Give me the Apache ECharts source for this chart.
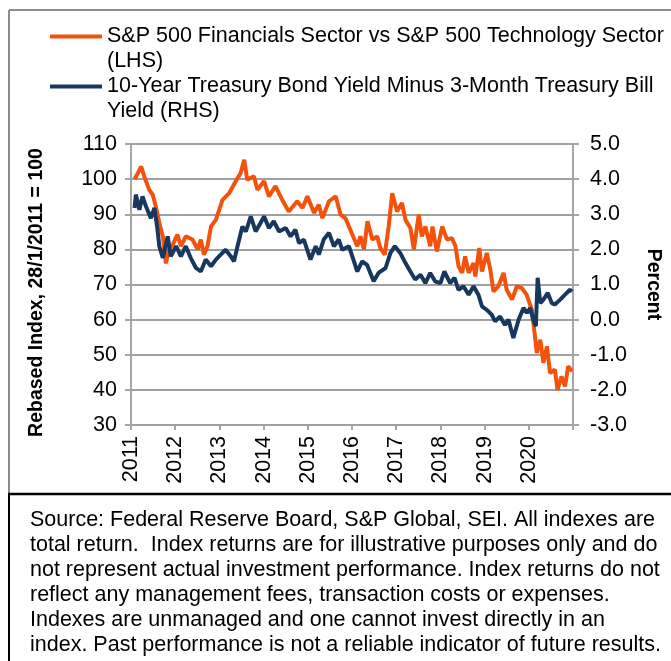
<!DOCTYPE html>
<html>
<head>
<meta charset="utf-8">
<script src="https://cdn.jsdelivr.net/npm/echarts@6/dist/echarts.min.js"></script>
<style>
  html, body { margin: 0; padding: 0; background: #fff; }
  #chart { width: 671px; height: 661px; }
</style>
</head>
<body>
<div id="chart"></div>
<script>
// financials vs tech, rebased index (LHS)
var finDates = [2011.08, 2011.15, 2011.23, 2011.30, 2011.41, 2011.49, 2011.56, 2011.64, 2011.72, 2011.79,
  2011.86, 2011.95, 2012.05, 2012.13, 2012.24, 2012.39, 2012.51, 2012.58, 2012.65, 2012.73,
  2012.81, 2012.92, 2013.07, 2013.22, 2013.37, 2013.48, 2013.56, 2013.63, 2013.78, 2013.86,
  2014.01, 2014.12, 2014.27, 2014.42, 2014.57, 2014.76, 2014.88, 2014.99, 2015.14, 2015.25,
  2015.33, 2015.48, 2015.63, 2015.74, 2015.85, 2015.93, 2016.12, 2016.19, 2016.27, 2016.35,
  2016.46, 2016.57, 2016.64, 2016.74, 2016.83, 2016.91, 2017.02, 2017.13, 2017.21, 2017.32,
  2017.40, 2017.51, 2017.58, 2017.66, 2017.77, 2017.82, 2017.92, 2018.04, 2018.15, 2018.26,
  2018.34, 2018.41, 2018.49, 2018.56, 2018.64, 2018.75, 2018.79, 2018.88, 2018.94, 2019.05,
  2019.13, 2019.20, 2019.31, 2019.43, 2019.50, 2019.62, 2019.73, 2019.84, 2019.95, 2020.07,
  2020.14, 2020.18, 2020.26, 2020.33, 2020.41, 2020.48, 2020.59, 2020.65, 2020.74, 2020.82,
  2020.89, 2020.98];
var finValues = [100, 101.5, 103.6, 100.8, 97, 95.6, 92.3, 87.6, 83.7, 76,
  80, 81.5, 84.2, 80.9, 83.7, 82.8, 80, 82.8, 78.5, 80.9,
  86.5, 88.4, 94.1, 96, 99.4, 101.7, 105.5, 99.8, 100.8, 97,
  99.4, 95.1, 98, 94.1, 90.8, 93.7, 91.8, 95.1, 90.4, 92.7,
  88.9, 93.7, 95.1, 89.9, 88.9, 86.5, 80.9, 83.7, 80, 88,
  82.8, 83.7, 80.4, 78.5, 86.5, 96, 90.8, 93.2, 88.4, 86.1,
  80, 89.9, 83.7, 86.5, 80.9, 86.5, 79.4, 86.5, 82.8, 83.2,
  80.9, 75.2, 73.3, 78, 73.3, 76.1, 72.3, 80.4, 73.7, 79,
  74.2, 68, 69.5, 73.3, 68.5, 65.7, 69.5, 69, 67.1, 62.8,
  55.2, 50.5, 54.3, 47.7, 52.4, 44.8, 45.8, 40, 43.8, 41,
  46.7, 45.3];

// 10y minus 3m yield spread, percent (RHS)
var yieldDates = [2011.08, 2011.11, 2011.19, 2011.26, 2011.34, 2011.45, 2011.53, 2011.60, 2011.64, 2011.72,
  2011.83, 2011.90, 2012.02, 2012.13, 2012.24, 2012.35, 2012.47, 2012.58, 2012.69, 2012.81,
  2012.92, 2013.03, 2013.14, 2013.26, 2013.33, 2013.41, 2013.52, 2013.60, 2013.71, 2013.82,
  2013.93, 2014.01, 2014.12, 2014.23, 2014.35, 2014.50, 2014.61, 2014.72, 2014.80, 2014.91,
  2015.06, 2015.18, 2015.25, 2015.36, 2015.48, 2015.59, 2015.70, 2015.78, 2015.93, 2016.12,
  2016.23, 2016.34, 2016.49, 2016.60, 2016.76, 2016.87, 2016.97, 2017.09, 2017.21, 2017.32,
  2017.43, 2017.55, 2017.66, 2017.77, 2017.88, 2018.00, 2018.09, 2018.22, 2018.32, 2018.41,
  2018.52, 2018.64, 2018.75, 2018.86, 2018.94, 2019.05, 2019.16, 2019.24, 2019.35, 2019.46,
  2019.54, 2019.65, 2019.77, 2019.88, 2019.96, 2020.03, 2020.10, 2020.16, 2020.20, 2020.26,
  2020.33, 2020.43, 2020.52, 2020.59, 2020.71, 2020.82, 2020.93, 2020.98];
var yieldValues = [3.18, 3.56, 3.13, 3.51, 3.22, 2.89, 3.18, 2.56, 2.09, 1.76,
  2.37, 1.80, 2.09, 1.80, 2.09, 1.76, 1.47, 1.37, 1.71, 1.52,
  1.71, 1.85, 1.99, 1.80, 1.66, 2.09, 2.65, 2.51, 2.94, 2.51,
  2.75, 2.94, 2.61, 2.80, 2.51, 2.61, 2.37, 2.56, 2.18, 2.28,
  1.71, 2.09, 1.85, 2.28, 2.47, 2.09, 2.28, 1.99, 2.09, 1.37,
  1.66, 1.56, 1.09, 1.33, 1.47, 1.90, 2.09, 1.90, 1.61, 1.37,
  1.14, 1.28, 1.04, 1.33, 1.09, 1.04, 1.37, 1.04, 1.19, 0.85,
  0.95, 0.71, 0.95, 0.71, 0.38, 0.28, 0.14, -0.05, 0.09, -0.15,
  0.0, -0.52, 0.0, 0.33, 0.19, 0.33, 0.0, -0.19, 1.19, 0.47,
  0.57, 0.76, 0.47, 0.43, 0.57, 0.71, 0.85, 0.80];

// axis ranges / ticks
var yearRange = [2011, 2021];
var leftTicks = [30, 40, 50, 60, 70, 80, 90, 100, 110];

var legendNames = [
  ['S&P 500 Financials Sector vs S&P 500 Technology Sector', '(LHS)'],
  ['10-Year Treasury Bond Yield Minus 3-Month Treasury Bill', 'Yield (RHS)']
];
var seriesNames = ['Financials vs Technology', 'Yield Curve'];

var footnote = [
  'Source: Federal Reserve Board, S&P Global, SEI. All indexes are',
  'total return.  Index returns are for illustrative purposes only and do',
  'not represent actual investment performance. Index returns do not',
  'reflect any management fees, transaction costs or expenses.',
  'Indexes are unmanaged and one cannot invest directly in an',
  'index. Past performance is not a reliable indicator of future results.'
];

function pairs(xs, ys) {
  return xs.map(function (x, i) { return [x, ys[i]]; });
}

var FONT = '"Liberation Sans", Arial, sans-serif';
var AXIS = '#a6a6a6';
var GRID = '#a0a0a0';
var FS = 21.5;

var chart = echarts.init(document.getElementById('chart'));
chart.setOption({
  animation: false,
  legend: {
    orient: 'vertical',
    left: 50,
    top: -1,
    padding: 0,
    itemGap: -25,
    itemWidth: 52,
    itemHeight: 4,
    icon: 'rect',
    data: seriesNames,
    formatter: function (name) {
      var l = legendNames[seriesNames.indexOf(name)];
      return ' \n' + l[0] + '\n' + l[1];
    },
    textStyle: { fontFamily: FONT, fontSize: FS, lineHeight: 25, color: '#000' }
  },
  grid: { left: 131, right: 98, top: 144, bottom: 236 },
  xAxis: {
    type: 'value',
    min: yearRange[0],
    max: yearRange[1],
    interval: 1,
    axisLine: { onZero: false, lineStyle: { color: AXIS, width: 2 } },
    axisTick: { length: 5, lineStyle: { color: AXIS, width: 2 } },
    splitLine: { show: false },
    axisLabel: {
      rotate: 90,
      margin: 11,
      fontSize: FS,
      color: '#000',
      fontFamily: FONT,
      formatter: function (v) { return v < yearRange[1] ? String(v) : ''; }
    }
  },
  yAxis: [{
    type: 'value',
    min: 30,
    max: 110,
    interval: 10,
    name: 'Rebased Index, 28/1/2011 = 100',
    nameLocation: 'middle',
    nameGap: 84,
    nameTextStyle: { fontFamily: FONT, fontSize: 19.5, fontWeight: 'bold', color: '#000', padding: [0, 16, 0, 0] },
    axisLine: { show: true, lineStyle: { color: AXIS, width: 2 } },
    axisTick: { show: true, length: 6, lineStyle: { color: AXIS, width: 2 } },
    splitLine: { show: true, lineStyle: { color: GRID, width: 2 } },
    axisLabel: { margin: 14, fontSize: FS, color: '#000', fontFamily: FONT }
  }, {
    type: 'value',
    min: -3,
    max: 5,
    interval: 1,
    name: 'Percent',
    nameLocation: 'middle',
    nameGap: 70,
    nameRotate: -90,
    nameTextStyle: { fontFamily: FONT, fontSize: 19.5, fontWeight: 'bold', color: '#000' },
    axisLine: { show: true, lineStyle: { color: AXIS, width: 2 } },
    axisTick: { show: true, length: 6, lineStyle: { color: AXIS, width: 2 } },
    splitLine: { show: false },
    axisLabel: {
      margin: 17, fontSize: FS, color: '#000', fontFamily: FONT,
      formatter: function (v) { return v.toFixed(1); }
    }
  }],
  series: [{
    name: seriesNames[0],
    type: 'line',
    yAxisIndex: 0,
    showSymbol: false,
    data: pairs(finDates, finValues),
    itemStyle: { color: '#f4520c' },
    lineStyle: { color: '#f4520c', width: 4 },
    // horizontal gridlines at the left-axis ticks, kept under the lines
    markLine: {
      silent: true,
      z: 1,
      symbol: 'none',
      label: { show: false },
      emphasis: { disabled: true },
      lineStyle: { color: GRID, width: 2, type: 'solid' },
      data: leftTicks.map(function (t) { return { yAxis: t }; })
    }
  }, {
    name: seriesNames[1],
    type: 'line',
    yAxisIndex: 1,
    showSymbol: false,
    data: pairs(yieldDates, yieldValues),
    itemStyle: { color: '#17375e' },
    lineStyle: { color: '#17375e', width: 4 }
  }],
  graphic: [
    { type: 'line', shape: { x1: 9, y1: 10, x2: 671, y2: 10 }, style: { stroke: '#8c8c8c', lineWidth: 2 } },
    { type: 'line', shape: { x1: 9, y1: 10, x2: 9, y2: 494 }, style: { stroke: '#8c8c8c', lineWidth: 2 } },
    { type: 'line', shape: { x1: 8, y1: 494, x2: 671, y2: 494 }, style: { stroke: '#000', lineWidth: 2.5 } },
    { type: 'line', shape: { x1: 9, y1: 494, x2: 9, y2: 661 }, style: { stroke: '#000', lineWidth: 2 } },
    {
      type: 'text',
      left: 30,
      top: 508,
      style: {
        text: footnote.join('\n'),
        font: FS + 'px ' + FONT,
        lineHeight: 25,
        fill: '#000'
      }
    }
  ]
});
</script>
</body>
</html>
